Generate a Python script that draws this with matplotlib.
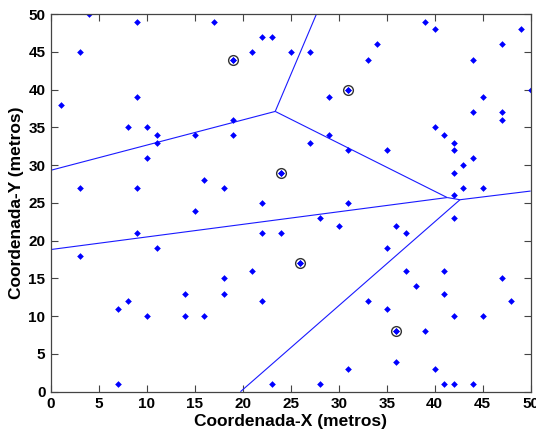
import numpy as np
import matplotlib
matplotlib.use("Agg")
import matplotlib.pyplot as plt

# Sensor points (metros)
pts_x = [4, 9, 3, 1, 9, 8, 10, 11, 11, 15,
         17, 22, 23, 21, 19, 25, 27, 33, 31, 29, 19, 19, 29, 27,
         39, 40, 49, 34, 47, 44, 50, 45, 44, 47, 47, 40, 41, 42,
         10, 3, 9, 16, 15, 9, 11, 3,
         31, 24, 18, 22, 31, 28, 30, 22, 24, 26, 21,
         42, 35, 44, 43, 42, 43, 45, 42, 42, 36, 37, 35, 37, 41,
         7, 8, 10, 14, 14, 16, 7,
         18, 18, 22, 33, 31, 23, 28,
         47, 38, 41, 48, 35, 42, 45, 36, 39, 36, 40, 41, 42, 44]
pts_y = [50, 49, 45, 38, 39, 35, 35, 34, 33, 34,
         49, 47, 47, 45, 44, 45, 45, 44, 40, 39, 36, 34, 34, 33,
         49, 48, 48, 46, 46, 44, 40, 39, 37, 37, 36, 35, 34, 33,
         31, 27, 27, 28, 24, 21, 19, 18,
         32, 29, 27, 25, 25, 23, 22, 21, 21, 17, 16,
         32, 32, 31, 30, 29, 27, 27, 26, 23, 22, 21, 19, 16, 16,
         11, 12, 10, 13, 10, 10, 1,
         15, 13, 12, 12, 3, 1, 1,
         15, 14, 13, 12, 11, 10, 10, 8, 8, 4, 3, 1, 1, 1]

# Cluster heads (Voronoi seeds)
seed_x = [19, 31, 24, 26, 36]
seed_y = [44, 40, 29, 17, 8]

xlim = (0, 50)
ylim = (0, 50)


def clip(poly, a, b, c, tag):
    """Keep part of polygon with a*x + b*y <= c. poly: list of (x, y, edge_tag)."""
    out = []
    n = len(poly)
    for k in range(n):
        p = poly[k]
        q = poly[(k + 1) % n]
        fp = a * p[0] + b * p[1] - c
        fq = a * q[0] + b * q[1] - c
        if fp <= 0:
            out.append(p)
        if (fp < 0 < fq) or (fq < 0 < fp):
            t = fp / (fp - fq)
            x = p[0] + t * (q[0] - p[0])
            y = p[1] + t * (q[1] - p[1])
            if fp <= 0:
                out.append((x, y, tag))
            else:
                out.append((x, y, p[2]))
    return out


seeds = np.column_stack([seed_x, seed_y]).astype(float)
edges = []
for i, si in enumerate(seeds):
    poly = [(xlim[0], ylim[0], -1), (xlim[1], ylim[0], -1),
            (xlim[1], ylim[1], -1), (xlim[0], ylim[1], -1)]
    for j, sj in enumerate(seeds):
        if i == j:
            continue
        a, b = sj - si
        c = (np.dot(sj, sj) - np.dot(si, si)) / 2.0
        poly = clip(poly, a, b, c, j)
    n = len(poly)
    for k in range(n):
        p = poly[k]
        q = poly[(k + 1) % n]
        if p[2] > i:
            edges.append(((p[0], q[0]), (p[1], q[1])))

fig = plt.figure(figsize=(5.36, 4.36), dpi=100)
ax = fig.add_axes([0.0951, 0.1016, 0.8949, 0.8658])

for ex, ey in edges:
    ax.plot(ex, ey, color="#1a1aff", lw=0.8, solid_capstyle="butt")

ax.plot(pts_x, pts_y, linestyle="none", marker="D", markersize=3.4,
        color="#0000ff", markeredgewidth=0)
ax.plot(seed_x, seed_y, linestyle="none", marker="o", markersize=7,
        markerfacecolor="none", markeredgecolor="#333333", markeredgewidth=1.0)
ax.plot(seed_x, seed_y, linestyle="none", marker="D", markersize=3.4,
        color="#0000ff", markeredgewidth=0)

ax.set_xlim(*xlim)
ax.set_ylim(*ylim)
ax.set_xticks(np.arange(0, 51, 5))
ax.set_yticks(np.arange(0, 51, 5))
for lab in ax.get_xticklabels() + ax.get_yticklabels():
    lab.set_fontweight("bold")
    lab.set_fontfamily("Liberation Sans")
    lab.set_fontsize(11)
ax.tick_params(direction="in", top=True, right=True, length=5, width=0.8,
               color="#444444", pad=4)
for s in ax.spines.values():
    s.set_color("#444444")
    s.set_linewidth(0.9)

ax.set_xlabel("Coordenada-X (metros)", fontsize=12.5, fontweight="bold",
              family="Liberation Sans", labelpad=2)
ax.set_ylabel("Coordenada-Y (metros)", fontsize=12.5, fontweight="bold",
              family="Liberation Sans", labelpad=3)

fig.savefig("out.png", dpi=100)
